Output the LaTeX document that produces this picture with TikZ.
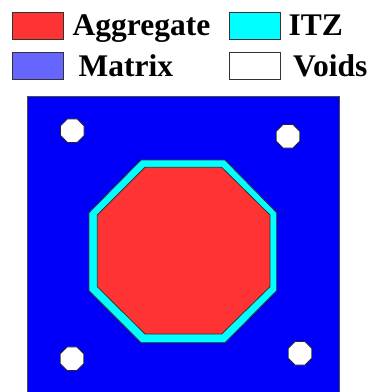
\documentclass[tikz,border=0pt]{standalone}
\usepackage{xcolor}
\usepackage{fontspec}
\setmainfont{Liberation Serif}
\usetikzlibrary{positioning, shapes.geometric}

\definecolor{aggred}{RGB}{255,51,51}
\definecolor{itzcyan}{RGB}{0,255,255}
\definecolor{matblue}{RGB}{0,0,250}
\definecolor{keyblue}{RGB}{102,102,255}

\begin{document}
\begin{tikzpicture}[x=1pt, y=-1pt,
        keybox/.style={draw=black!80, line width=0.9pt, minimum width=51pt, minimum height=27pt, inner sep=0pt},
        keytext/.style={font=\fontsize{31.5}{31.5}\selectfont\bfseries, inner sep=0pt, anchor=base west},
        void/.style={regular polygon, regular polygon sides=8, minimum size=25.5pt, inner sep=0pt, fill=white, draw=black!85, line width=0.8pt}]
        \useasboundingbox (0,0) rectangle (368,392);

        % legend
        \node[keybox, fill=aggred] (aggbox) at (37.5,25.5) {};
        \node[keybox, fill=itzcyan] (itzbox) at (254.5,25.5) {};
        \node[keybox, fill=keyblue] (matbox) at (37.5,65.5) {};
        \node[keybox, fill=white] (voidbox) at (254.5,65.5) {};

        \node[keytext] (agglbl) at ([xshift=9pt, yshift=-10pt]aggbox.east) {Aggregate};
        \node[keytext] (itzlbl) at ([xshift=8pt, yshift=-10pt]itzbox.east) {ITZ};
        \node[keytext] (matlbl) at ([xshift=15pt, yshift=-10.5pt]matbox.east) {Matrix};
        \node[keytext] (voidlbl) at ([xshift=12.5pt, yshift=-10.5pt]voidbox.east) {Voids};

        % matrix plate
        \draw[fill=matblue, draw=black!70, line width=0.8pt] (27,96) rectangle (339,400);

        % interfacial transition zone
        \draw[fill=itzcyan, draw=black!80, line width=0.8pt]
        (141,160) -- (225,160) -- (276.7,212.7) -- (276.7,290.7)
        -- (225,342.7) -- (141,342.7) -- (89,290.7) -- (89,212.7) -- cycle;

        % aggregate
        \draw[fill=aggred, draw=black!80, line width=0.8pt]
        (145,167.3) -- (221.7,167.3) -- (270,215) -- (270,286.7)
        -- (221.7,334) -- (145,334) -- (97.3,286.7) -- (97.3,215) -- cycle;

        % voids
        \node[void] (void1) at (72.3,130.7) {};
        \node[void] (void2) at (288,136.3) {};
        \node[void] (void3) at (72,358.7) {};
        \node[void] (void4) at (300,353.3) {};
\end{tikzpicture}
\end{document}
